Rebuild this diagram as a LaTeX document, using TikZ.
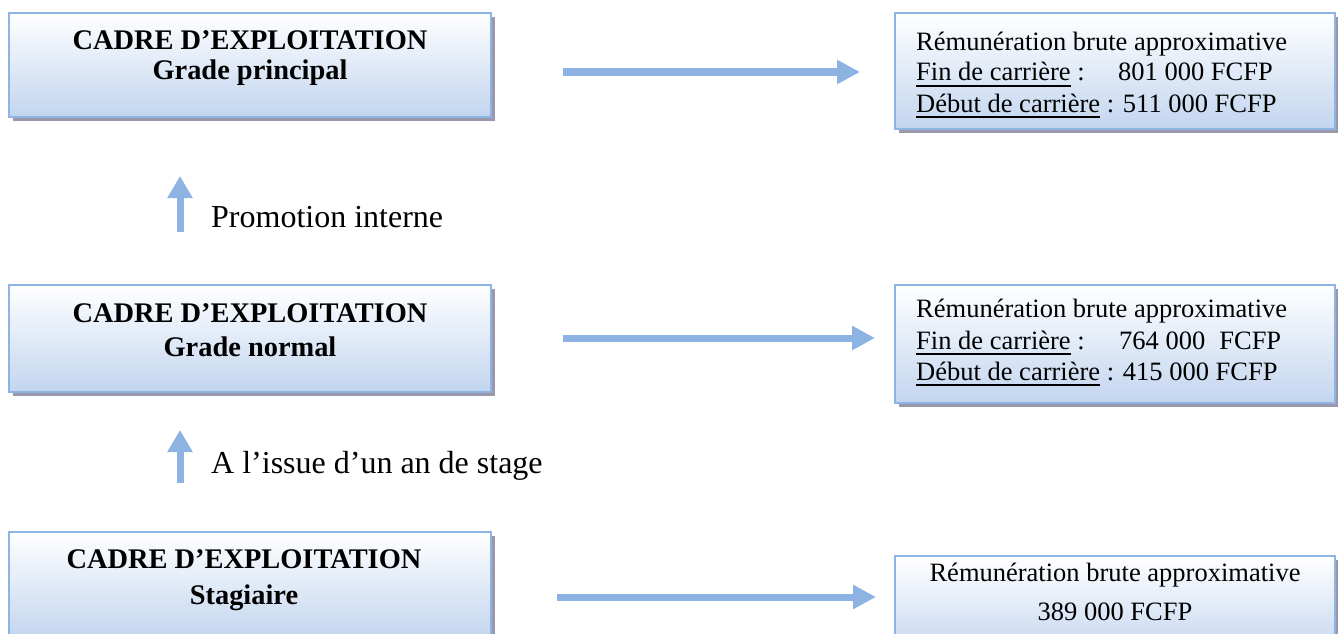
\documentclass[tikz,border=0pt]{standalone}
\usepackage{fontspec}
\setmainfont{Liberation Serif}
\usetikzlibrary{arrows.meta,shadows}
\definecolor{boxborder}{RGB}{142,180,227}
\definecolor{boxbottom}{RGB}{194,213,239}
\definecolor{shadowc}{RGB}{155,152,172}
\definecolor{arrowc}{RGB}{141,179,226}
\newcommand{\myul}[1]{\setbox0\hbox{#1}\rlap{\rule[-6pt]{\wd0}{1.8pt}}\box0\relax}
\tikzset{
  boxstyle/.style={draw=boxborder, line width=2pt, top color=white, bottom color=boxbottom,
    drop shadow={shadow xshift=4pt, shadow yshift=-4pt, fill=shadowc, opacity=1},
    inner sep=0pt, outer sep=0pt},
  titletext/.style={font=\fontsize{28.4}{32}\selectfont\bfseries, align=center, anchor=base, inner sep=0pt},
  paytext/.style={font=\fontsize{26.5}{30.5}\selectfont, align=left, anchor=base west, inner sep=0pt},
  sidetext/.style={font=\fontsize{32}{36}\selectfont, anchor=base west, inner sep=0pt},
  harrow/.style={draw=arrowc, line width=7pt, -{Triangle[width=23pt,length=23pt]}},
  varrow/.style={draw=arrowc, line width=7pt, -{Triangle[width=24pt,length=22pt]}}
}
\begin{document}
\begin{tikzpicture}[x=1pt,y=-1pt]
\useasboundingbox (0,0) rectangle (1338,634);
% left boxes
\node[boxstyle, minimum width=482pt, minimum height=104pt] (b1) at (250,65) {};
\node[boxstyle, minimum width=482pt, minimum height=107pt] (b2) at (250,338.5) {};
\node[boxstyle, minimum width=482pt, minimum height=107pt] (b3) at (250,585.5) {};
% right boxes
\node[boxstyle, minimum width=440pt, minimum height=116pt] (r1) at (1115,71) {};
\node[boxstyle, minimum width=440pt, minimum height=118pt] (r2) at (1115,344) {};
\node[boxstyle, minimum width=440pt, minimum height=100pt] (r3) at (1115,606) {};
% titles
\node[titletext] (t1a) at (250,50) {CADRE D’EXPLOITATION};
\node[titletext] (t1b) at (250,79) {Grade principal};
\node[titletext] (t2a) at (250,322) {CADRE D’EXPLOITATION};
\node[titletext] (t2b) at (250,356) {Grade normal};
\node[titletext] (t3a) at (244,568) {CADRE D’EXPLOITATION};
\node[titletext] (t3b) at (244,604) {Stagiaire};
% pay texts
\node[paytext] (p1a) at (916,51) {Rémunération brute approximative};
\node[paytext] (p1b) at (916,81) {\makebox[202pt][l]{\myul{Fin de carrière} :}801 000 FCFP};
\node[paytext] (p1c) at (916,112) {\myul{Début de carrière} : 511 000 FCFP};
\node[paytext] (p2a) at (916,317) {Rémunération brute approximative};
\node[paytext] (p2b) at (916,349) {\makebox[203pt][l]{\myul{Fin de carrière} :}764 000\hspace{14pt}FCFP};
\node[paytext] (p2c) at (916,380) {\myul{Début de carrière} : 415 000 FCFP};
\node[paytext, anchor=base] (p3a) at (1115,581) {Rémunération brute approximative};
\node[paytext, anchor=base] (p3b) at (1115,620) {389 000 FCFP};
% side labels
\node[sidetext] (l1) at (211,227) {Promotion interne};
\node[sidetext] (l2) at (211,473) {A l’issue d’un an de stage};
% horizontal arrows
\coordinate (h1s) at (563,72);
\coordinate (h1e) at (860,72);
\coordinate (h2s) at (563,338);
\coordinate (h2e) at (875,338);
\coordinate (h3s) at (557,597);
\coordinate (h3e) at (876,597);
\draw[harrow] (h1s) -- (h1e);
\draw[harrow] (h2s) -- (h2e);
\draw[harrow] (h3s) -- (h3e);
% vertical arrows
\coordinate (v1s) at (180,232);
\coordinate (v1e) at (180,176);
\coordinate (v2s) at (180,483);
\coordinate (v2e) at (180,430);
\draw[varrow] (v1s) -- (v1e);
\draw[varrow] (v2s) -- (v2e);
\end{tikzpicture}
\end{document}
